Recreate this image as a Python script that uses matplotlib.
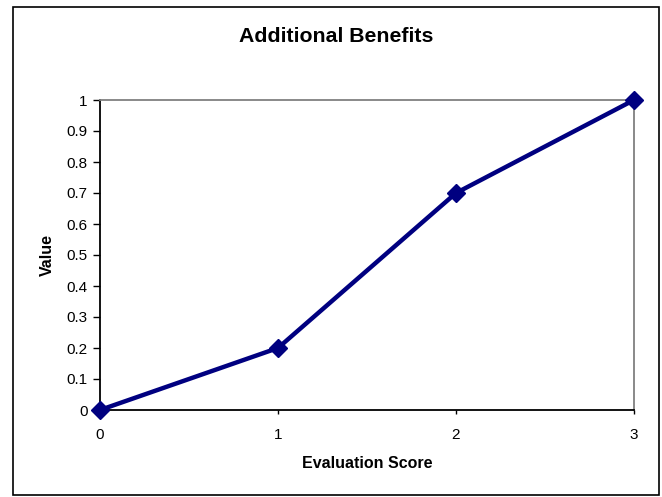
import matplotlib
matplotlib.use('Agg')
import matplotlib.pyplot as plt
from matplotlib.patches import Rectangle

# data
scores = [0, 1, 2, 3]
values = [0, 0.2, 0.7, 1.0]
yticks = [0, 0.1, 0.2, 0.3, 0.4, 0.5, 0.6, 0.7, 0.8, 0.9, 1]
ytick_labels = ['0', '0.1', '0.2', '0.3', '0.4', '0.5', '0.6', '0.7', '0.8', '0.9', '1']

plt.rcParams['font.family'] = ['Liberation Sans', 'DejaVu Sans']

W, H = 662, 497
fig = plt.figure(figsize=(W / 100, H / 100), dpi=100)

# outer chart border
fig.patches.append(Rectangle((13 / W, 2 / H), 646 / W, (H - 9) / H, transform=fig.transFigure,
                             fill=False, edgecolor='black', linewidth=1.2))

ax = fig.add_axes([100 / W, 1 - 410 / H, 534 / W, 310 / H])
ax.plot(scores, values, color='#000080', linewidth=3.2, marker='D', markersize=9,
        clip_on=False, zorder=5)

ax.set_xlim(0, 3)
ax.set_ylim(0, 1)
ax.set_xticks(scores)
ax.set_yticks(yticks)
ax.set_yticklabels(ytick_labels)
ax.tick_params(axis='both', labelsize=11, direction='out', width=1, color='black')
ax.tick_params(axis='y', length=5, pad=4)
ax.tick_params(axis='x', length=3, pad=10)

ax.spines['left'].set_color('black')
ax.spines['bottom'].set_color('black')
ax.spines['top'].set_color('#808080')
ax.spines['right'].set_color('#808080')
for s in ax.spines.values():
    s.set_linewidth(1.3)

fig.text(367 / W, 1 - 463 / H, 'Evaluation Score', ha='center', va='center',
         fontsize=11.5, fontweight='bold')
fig.text(47 / W, 1 - 255 / H, 'Value', ha='center', va='center', rotation=90,
         fontsize=11.5, fontweight='bold')
fig.text(336 / W, 1 - 36 / H, 'Additional Benefits', ha='center', va='center',
         fontsize=15.3, fontweight='bold')

fig.savefig('out.png', dpi=100)
